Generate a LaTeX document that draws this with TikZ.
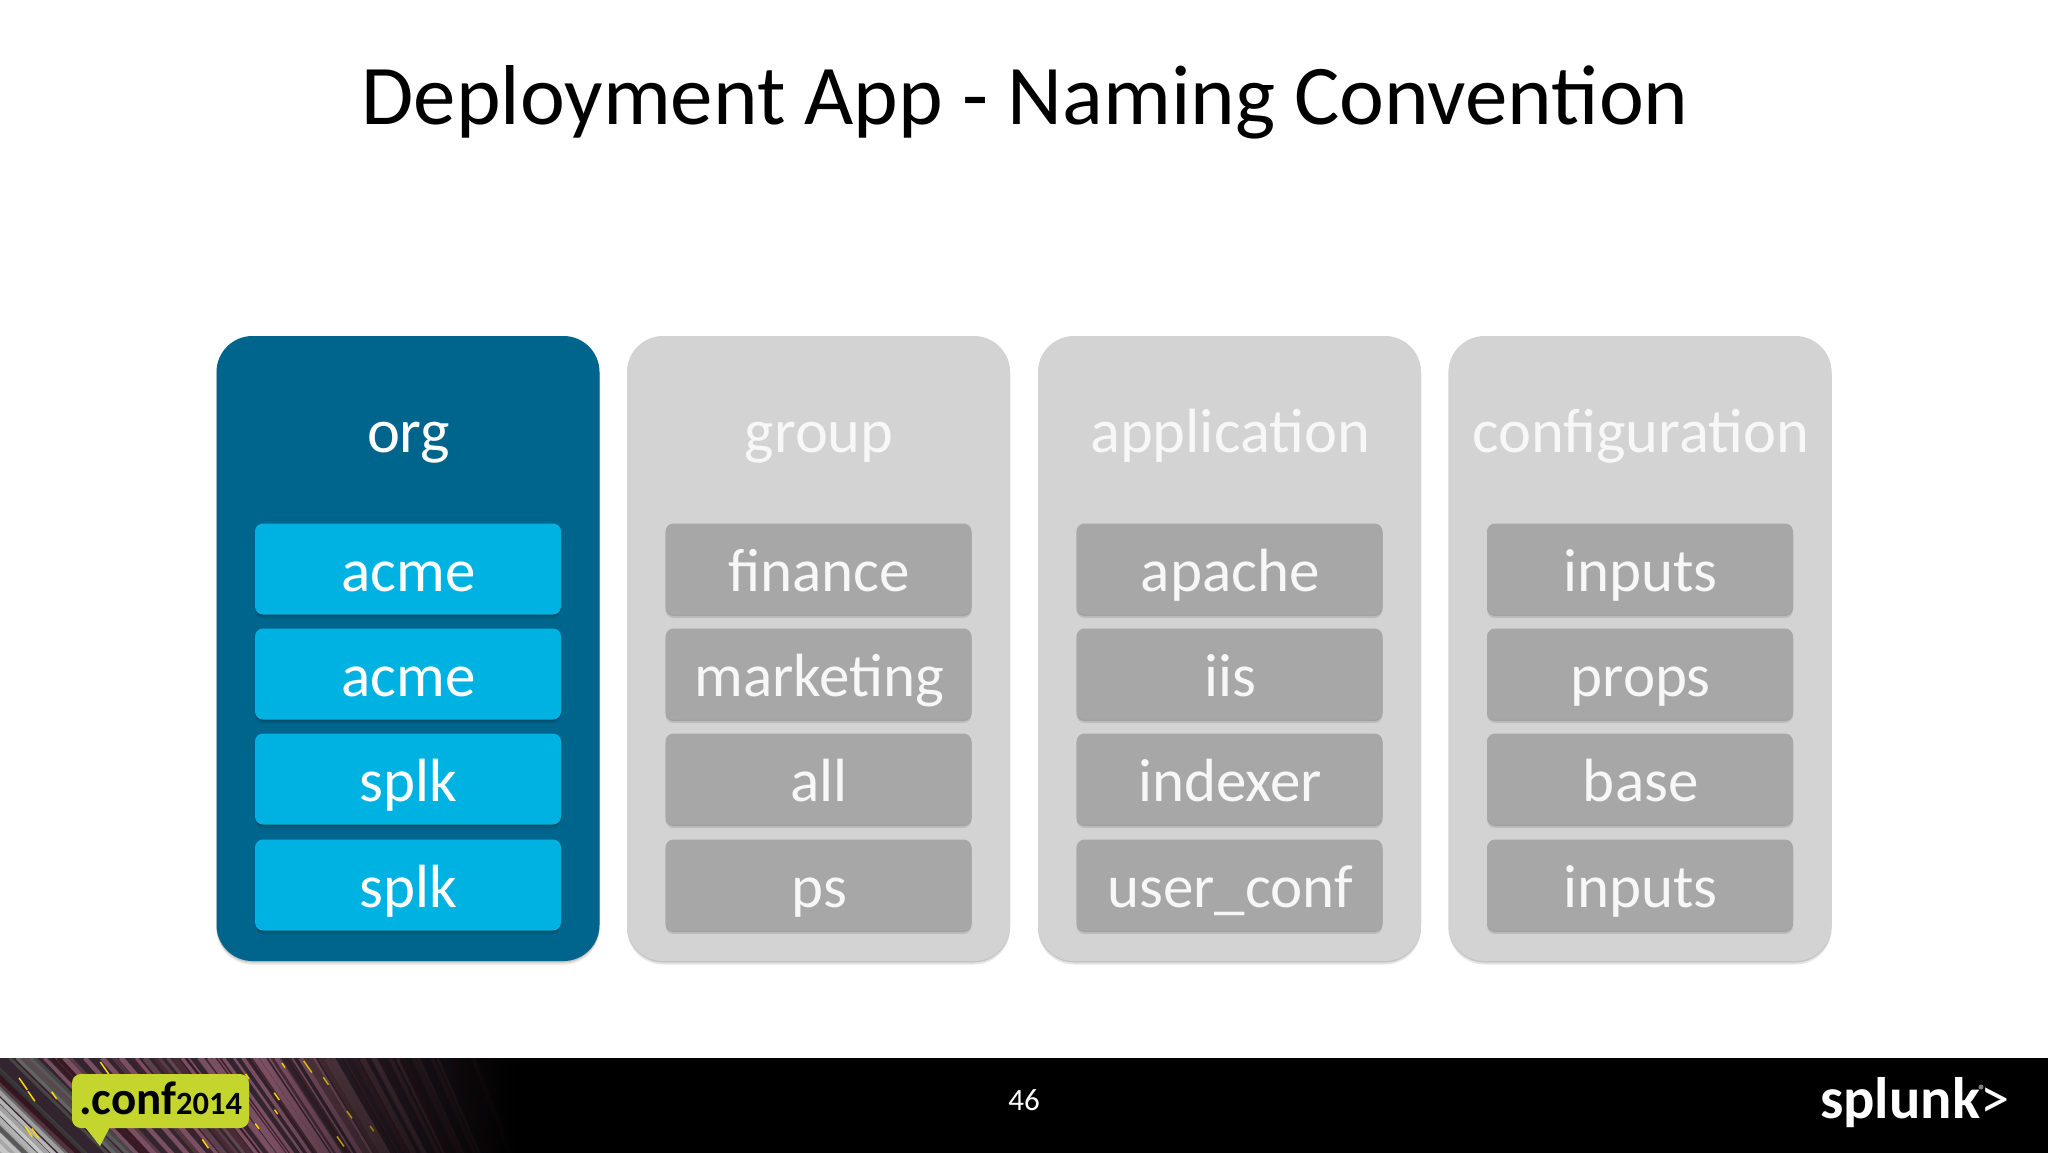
\documentclass[tikz,border=0pt]{standalone}
\usepackage{fontspec}
\setmainfont{Carlito}
\usetikzlibrary{positioning}
\usetikzlibrary{shadows}
\usetikzlibrary{fadings}
\definecolor{orgdark}{HTML}{00658C}
\definecolor{orgitem}{HTML}{00B2E2}
\definecolor{greypanel}{HTML}{D3D3D3}
\definecolor{greyitem}{HTML}{A7A7A7}
\definecolor{confgreen}{HTML}{C4D62E}
\definecolor{greytext}{HTML}{F7F7F7}
\definecolor{streakbase}{HTML}{33252F}
\definecolor{streakmauve}{HTML}{7A4F62}
\tikzset{
    softshadow/.style={
        drop shadow={shadow xshift=0pt,shadow yshift=-1.5pt,opacity=.14,fill=black},
        drop shadow={shadow xshift=0pt,shadow yshift=-3.5pt,opacity=.10,fill=black}},
    panel/.style={rounded corners=36pt,minimum width=383pt,minimum height=625pt,inner sep=0pt,softshadow},
    itembox/.style={rounded corners=8pt,minimum width=306pt,minimum height=91pt,inner sep=0pt,
        text height=50pt,text depth=5pt,font=\fontsize{61}{61}\selectfont,softshadow},
    header/.style={anchor=base,font=\fontsize{62.5}{62.5}\selectfont},
}
\begin{document}
\begin{tikzpicture}[x=1pt,y=-1pt]
        \useasboundingbox (0,0) rectangle (2048,1152);
        \fill[white] (0,0) rectangle (2048,1152);

        \node[anchor=base,font=\fontsize{85}{85}\selectfont] (title) at (1025,124.5) {Deployment App - Naming Convention};

        % columns
        \foreach \i/\cx/\fillcol/\itemcol/\txtcol/\hd/\itemA/\itemB/\itemC/\itemD in {
            1/408/orgdark/orgitem/white/org/acme/acme/splk/splk,
            2/818.5/greypanel/greyitem/greytext/group/finance/marketing/all/ps,
            3/1229.5/greypanel/greyitem/greytext/application/apache/iis/indexer/user\_conf,
            4/1640/greypanel/greyitem/greytext/configuration/inputs/props/base/inputs}
        {
            \node[panel,fill=\fillcol] (panel\i) at (\cx,648.5) {};
            \node[header,text=\txtcol] (head\i) at (\cx+.7,452) {\hd};
            \node[itembox,fill=\itemcol,text=\txtcol,text width=306pt,align=center] (item\i a) at (\cx,569) {\hspace{1.4pt}\itemA};
            \node[itembox,fill=\itemcol,text=\txtcol,text width=306pt,align=center] (item\i b) at (\cx,674) {\hspace{1.4pt}\itemB};
            \node[itembox,fill=\itemcol,text=\txtcol,text width=306pt,align=center] (item\i c) at (\cx,779) {\hspace{1.4pt}\itemC};
            \node[itembox,fill=\itemcol,text=\txtcol,text width=306pt,align=center] (item\i d) at (\cx,885) {\hspace{1.4pt}\itemD};
        }

        % footer
        \fill[black] (0,1058) rectangle (2048,1156);
        \begin{scope}
            \clip (0,1058) rectangle (520,1156);
            \fill[streakbase] (0,1058) rectangle (520,1156);
            \pgfmathsetseed{46}
            \foreach \n in {1,...,80}
            {
                \pgfmathsetmacro{\off}{-40+rnd*520}
                \pgfmathsetmacro{\wid}{1+rnd*5}
                \pgfmathsetmacro{\tone}{20+rnd*45}
                \pgfmathsetmacro{\run}{100-\off*.13}
                \draw[line width=\wid pt,gray!\tone!black!85!purple] (\off,1058) -- +(\run,98);
            }
            \foreach \n in {1,...,30}
            {
                \pgfmathsetmacro{\off}{40+rnd*280}
                \pgfmathsetmacro{\wid}{1+rnd*4}
                \pgfmathsetmacro{\run}{100-\off*.13}
                \draw[line width=\wid pt,streakmauve] (\off,1058) -- +(\run,98);
            }
            \foreach \n in {1,...,24}
            {
                \pgfmathsetmacro{\off}{-100+rnd*140}
                \pgfmathsetmacro{\tone}{40+rnd*50}
                \draw[line width=3pt,gray!\tone!black] (\off,1058) -- +(100,98);
            }
            \foreach \n in {1,...,12}
            {
                \pgfmathsetmacro{\off}{-95+rnd*60}
                \pgfmathsetmacro{\tone}{40+rnd*40}
                \draw[line width=4pt,gray!\tone!white] (\off,1058) -- +(100,98);
            }
            \foreach \n in {1,...,20}
            {
                \pgfmathsetmacro{\off}{rnd*400}
                \pgfmathsetmacro{\len}{4+rnd*9}
                \pgfmathsetmacro{\top}{1060+rnd*85}
                \draw[line width=1.5pt,yellow!75!orange] (\off,\top) -- +(\len*.7,\len);
            }
            \fill[black,path fading=west] (270,1058) rectangle (520,1156);
        \end{scope}
        \fill[confgreen,rounded corners=9pt] (72,1074) -- (249,1074) -- (249,1128) -- (72,1128) -- cycle;
        \fill[confgreen] (85,1127) -- (110,1127) -- (100,1146) -- cycle;
        \node[anchor=base west,inner sep=0pt,font=\bfseries\fontsize{47}{47}\selectfont] (conf) at (79,1114) {.conf};
        \node[anchor=base west,inner sep=0pt,font=\bfseries\fontsize{32.5}{32.5}\selectfont] (confyear) at (176,1114) {2014};

        \node[anchor=base,text=white,font=\fontsize{31}{31}\selectfont] (pagenum) at (1024,1110) {46};
        \node[anchor=base west,inner sep=0pt,text=white,font=\bfseries\fontsize{58.5}{58.5}\selectfont] (logo) at (1820,1118) {splunk{\mdseries >}};
        \fill[gray] (1981,1087) circle (2.5pt);
\end{tikzpicture}
\end{document}
